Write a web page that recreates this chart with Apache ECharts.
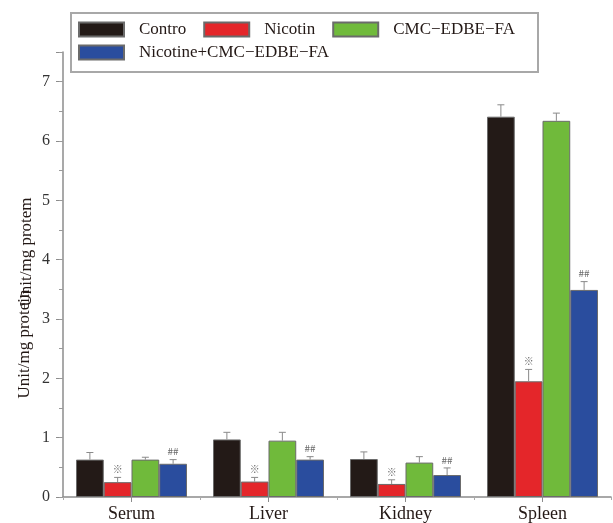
<!DOCTYPE html>
<html>
<head>
<meta charset="utf-8">
<script src="https://cdn.jsdelivr.net/npm/echarts@6/dist/echarts.min.js"></script>
<style>
  html, body { margin: 0; padding: 0; background: #fff; }
  #chart { width: 613px; height: 523px; }
</style>
</head>
<body>
<div id="chart"></div>
<script>
// Tissue groups and treatment groups
const categories = ['Serum', 'Liver', 'Kidney', 'Spleen'];
const seriesNames = ['Contro', 'Nicotin', 'CMC\u2212EDBE\u2212FA', 'Nicotine+CMC\u2212EDBE\u2212FA'];

// Mean activity (Unit/mg protein) per group
const controValues   = [0.63, 0.97, 0.64, 6.41];
const nicotinValues  = [0.25, 0.26, 0.22, 1.95];
const cmcValues      = [0.63, 0.95, 0.58, 6.34];
const comboValues    = [0.56, 0.63, 0.37, 3.49];

// Error (upper whisker length)
const controErr  = [0.12, 0.12, 0.12, 0.20];
const nicotinErr = [0.08, 0.07, 0.07, 0.20];
const cmcErr     = [0.04, 0.14, 0.10, 0.13];
const comboErr   = [0.07, 0.05, 0.12, 0.14];

// Significance marks above bars
const nicotinMarks = ['\u203B', '\u203B', '\u203B', '\u203B'];
const comboMarks   = ['##', '##', '##', '##'];

const yTicks = [0, 1, 2, 3, 4, 5, 6, 7];

const colors = ['#231a17', '#e4262a', '#70ba3b', '#2a4d9e'];
const FONT = '"Liberation Serif", "DejaVu Serif", serif';

const allValues = [controValues, nicotinValues, cmcValues, comboValues];
const allErr = [controErr, nicotinErr, cmcErr, comboErr];
const allMarks = [null, nicotinMarks, null, comboMarks];
const CAT_GAP = 0.19;

// Error bar + mark rows: [category, seriesIdx, value, err, mark]
const errData = [];
allValues.forEach((vals, s) => {
  vals.forEach((v, c) => {
    errData.push([c, s, v, allErr[s][c], allMarks[s] ? allMarks[s][c] : '']);
  });
});

function renderErr(params, api) {
  const c = api.value(0), s = api.value(1), v = api.value(2), e = api.value(3);
  const mark = errData[params.dataIndex][4];
  const center = api.coord([c, 0]);
  const band = api.size([1, 0])[0];
  const bw = band * (1 - CAT_GAP) / 4;
  const x = center[0] + (s - 1.5) * bw;
  const yTop = api.coord([c, v])[1];
  const yErr = api.coord([c, v + e])[1];
  const children = [
    { type: 'line', shape: { x1: x, y1: yTop, x2: x, y2: yErr }, style: { stroke: '#8a8a8a', lineWidth: 1 } },
    { type: 'line', shape: { x1: x - 3.5, y1: yErr, x2: x + 3.5, y2: yErr }, style: { stroke: '#8a8a8a', lineWidth: 1 } }
  ];
  if (mark) {
    children.push({
      type: 'text',
      style: {
        text: mark, x: x, y: yErr - 3, align: 'center', verticalAlign: 'bottom',
        fill: '#6a6a6a', font: '10px "Noto Sans CJK SC", sans-serif'
      }
    });
  }
  return { type: 'group', children: children };
}

const chart = echarts.init(document.getElementById('chart'), null, { renderer: 'canvas' });

const barSeries = seriesNames.map((name, i) => ({
  name: name,
  type: 'bar',
  data: allValues[i],
  barGap: '0%',
  barCategoryGap: (CAT_GAP * 100) + '%',
  itemStyle: { color: colors[i], borderColor: '#6b6b6b', borderWidth: 1 },
  xAxisIndex: 0,
  yAxisIndex: 0,
  z: 2
}));

const legendText = { fontFamily: FONT, fontSize: 17, color: '#231815', padding: [0, 0, 0, 10] };

chart.setOption({
  animation: false,
  backgroundColor: '#fff',
  grid: { left: 63, right: 2, top: 52, bottom: 26, containLabel: false },
  legend: [
    {
      data: seriesNames.slice(0, 3),
      left: 73, top: 16,
      orient: 'horizontal',
      icon: 'rect', itemWidth: 45, itemHeight: 14, itemGap: 17,
      textStyle: legendText
    },
    {
      data: seriesNames.slice(3),
      left: 73, top: 39,
      icon: 'rect', itemWidth: 45, itemHeight: 14,
      textStyle: legendText
    }
  ],
  xAxis: [
    {
      type: 'category',
      data: categories,
      axisLine: { show: true, lineStyle: { color: '#8c8c8c', width: 1.5 } },
      axisTick: { show: true, alignWithLabel: true, length: 5, lineStyle: { color: '#8c8c8c' } },
      axisLabel: { fontFamily: FONT, fontSize: 18, color: '#231815', margin: 8 },
      splitLine: { show: false }
    },
    {
      type: 'category',
      data: categories,
      position: 'bottom',
      axisLine: { show: false },
      axisTick: { show: true, length: 3, lineStyle: { color: '#aaa' } },
      axisLabel: { show: false },
      splitLine: { show: false }
    }
  ],
  yAxis: [
    {
      type: 'value',
      min: 0, max: 7.5, interval: 1,
      axisLine: { show: true, lineStyle: { color: '#8c8c8c', width: 1.5 } },
      axisTick: { show: true, length: 7, lineStyle: { color: '#8c8c8c' } },
      axisLabel: {
        fontFamily: FONT, fontSize: 16, color: '#333', margin: 13,
        formatter: v => (yTicks.indexOf(v) >= 0 ? String(v) : '')
      },
      splitLine: { show: false }
    },
    {
      type: 'value',
      min: 0, max: 7.5, interval: 0.5,
      position: 'left',
      axisLine: { show: false },
      axisTick: { show: true, length: 4, lineStyle: { color: '#9a9a9a' } },
      axisLabel: { show: false },
      splitLine: { show: false }
    }
  ],
  series: barSeries.concat([{
    type: 'custom',
    name: 'err',
    renderItem: renderErr,
    data: errData,
    xAxisIndex: 0,
    yAxisIndex: 0,
    encode: { x: 0, y: 2 },
    z: 3,
    silent: true
  }]),
  graphic: [
    {
      type: 'rect',
      shape: { x: 71, y: 13, width: 467, height: 59 },
      style: { fill: 'none', stroke: '#a8a8a8', lineWidth: 2 },
      z: -1
    },
    {
      type: 'text',
      x: 25, y: 344, rotation: Math.PI / 2,
      style: {
        text: 'Unit/mg protein', align: 'center', verticalAlign: 'middle',
        font: '17px ' + FONT, fill: '#231815'
      }
    },
    {
      type: 'text',
      x: 27, y: 252, rotation: Math.PI / 2,
      style: {
        text: 'Unit/mg protem', align: 'center', verticalAlign: 'middle',
        font: '17px ' + FONT, fill: '#231815'
      }
    }
  ]
});
</script>
</body>
</html>
